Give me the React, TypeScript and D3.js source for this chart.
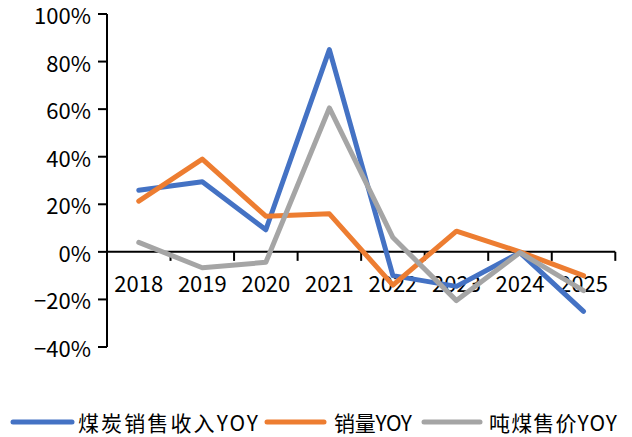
import * as d3 from "d3";

const years = ["2018", "2019", "2020", "2021", "2022", "2023", "2024", "2025"];
const revenueYoy = [25.9, 29.5, 9.3, 85, -10, -14.5, -0.3, -25];
const volumeYoy = [21.3, 39, 15, 16, -14, 8.7, 0, -10];
const priceYoy = [4, -6.7, -4.4, 60.5, 6, -20.5, -0.3, -16.3];
const yTicks = [100, 80, 60, 40, 20, 0, -20, -40];

const series = [
  { name: "煤炭销售收入YOY", values: revenueYoy, color: "#4472C4" },
  { name: "销量YOY", values: volumeYoy, color: "#ED7D31" },
  { name: "吨煤售价YOY", values: priceYoy, color: "#A5A5A5" },
];

// legend slots: line start, line end, text start, text width
const legendSlots = [
  [13, 72, 78, 180],
  [267, 324, 334, 78],
  [424, 480, 489, 128],
];

const font = "'Noto Sans CJK SC', 'Noto Sans', sans-serif";

export default function App() {
  const width = 632;
  const height = 437;

  const x = d3.scaleBand<string>().domain(years).range([107, 615.3]).paddingInner(0);
  const y = d3.scaleLinear().domain([-40, 100]).range([347, 14]);
  const cx = (yr: string) => (x(yr) ?? 0) + x.bandwidth() / 2;

  const line = d3
    .line<number>()
    .x((_, i) => cx(years[i]))
    .y((d) => y(d));

  const boundaries = years.map((yr) => (x(yr) ?? 0) + x.bandwidth());

  return (
    <svg
      width={width}
      height={height}
      style={{ position: "absolute", top: 0, left: 0, background: "#fff" }}
      fontFamily={font}
    >
      {/* y axis */}
      <line x1={107} x2={107} y1={y(100)} y2={y(-40)} stroke="#000" strokeWidth={2} />
      {yTicks.map((t) => (
        <g key={t}>
          <line x1={98} x2={107} y1={y(t)} y2={y(t)} stroke="#000" strokeWidth={2} />
          <text
            x={91}
            y={y(t)}
            textAnchor="end"
            dominantBaseline="central"
            fontSize={22}
            fill="#000"
          >
            {(t < 0 ? "−" + Math.abs(t) : t) + "%"}
          </text>
        </g>
      ))}

      {/* x axis */}
      <line x1={107} x2={615.3} y1={y(0)} y2={y(0)} stroke="#000" strokeWidth={2} />
      {boundaries.map((b, i) => (
        <line key={i} x1={b} x2={b} y1={y(0)} y2={y(0) + 9} stroke="#000" strokeWidth={2} />
      ))}
      {years.map((yr) => (
        <text
          key={yr}
          x={cx(yr)}
          y={282}
          textAnchor="middle"
          dominantBaseline="central"
          fontSize={22}
          fill="#000"
        >
          {yr}
        </text>
      ))}

      {/* lines */}
      {series.map((s) => (
        <path
          key={s.name}
          d={line(s.values) ?? ""}
          fill="none"
          stroke={s.color}
          strokeWidth={5}
          strokeLinejoin="round"
          strokeLinecap="round"
        />
      ))}

      {/* legend */}
      {series.map((s, i) => {
        const [l0, l1, tx, tw] = legendSlots[i];
        return (
          <g key={s.name}>
            <line x1={l0} x2={l1} y1={422} y2={422} stroke={s.color} strokeWidth={5} strokeLinecap="round" />
            <text
              x={tx}
              y={422}
              dominantBaseline="central"
              fontSize={21}
              fill="#000"
              textLength={tw}
              lengthAdjust="spacing"
            >
              {s.name}
            </text>
          </g>
        );
      })}
    </svg>
  );
}
